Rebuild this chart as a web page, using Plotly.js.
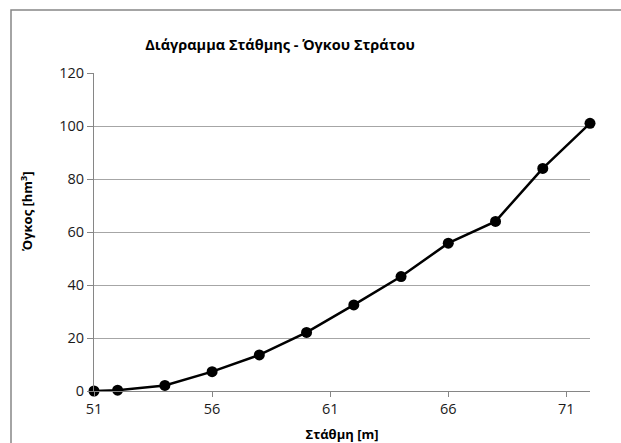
<!DOCTYPE html>
<html>
<head>
<meta charset="utf-8">
<script src="https://cdn.plot.ly/plotly-3.0.1.min.js"></script>
<style>html,body{margin:0;padding:0;background:#fff;}#chart{width:621px;height:443px;}</style>
</head>
<body>
<div id="chart"></div>
<script>
const stage = [51, 52, 54, 56, 58, 60, 62, 64, 66, 68, 70, 72];
const volume = [0, 0.3, 2.1, 7.3, 13.6, 22.1, 32.5, 43.2, 55.8, 64, 84, 101];
const xTicks = [51, 56, 61, 66, 71];
const yTicks = [0, 20, 40, 60, 80, 100, 120];

const FONT = "'Open Sans', 'DejaVu Sans', sans-serif";

const trace = {
  x: stage, y: volume, type: 'scatter', mode: 'lines+markers',
  line: {color: '#000', width: 2.5},
  marker: {color: '#000', size: 11},
  cliponaxis: false,
  showlegend: false, hoverinfo: 'x+y'
};

const layout = {
  width: 621, height: 443,
  margin: {l: 94, r: 31, t: 73, b: 52},
  paper_bgcolor: '#fff', plot_bgcolor: '#fff',
  font: {family: FONT, size: 14, color: '#1a1a1a'},
  title: {text: '<b>Διάγραμμα Στάθμης - Όγκου Στράτου</b>', font: {family: FONT, size: 14.5, color: '#000'},
          x: 280/621, xanchor: 'center', xref: 'container', y: 1 - 45/443, yanchor: 'middle', yref: 'container'},
  xaxis: {
    range: [51, 72], tickvals: xTicks, ticktext: xTicks.map(String),
    showgrid: false, zeroline: false, showline: true, linecolor: '#868686', linewidth: 1,
    ticks: 'outside', ticklen: 5, tickcolor: '#868686', tickfont: {size: 14.5},
    title: {text: '<b>Στάθμη [m]</b>', font: {size: 13, color: '#000'}, standoff: 14}
  },
  yaxis: {
    range: [0, 120], tickvals: yTicks, ticktext: yTicks.map(String),
    showgrid: true, gridcolor: '#a6a6a6', gridwidth: 1, zeroline: false,
    showline: true, linecolor: '#868686', linewidth: 1,
    ticks: 'outside', ticklen: 6, tickcolor: '#868686', tickfont: {size: 14.5}
  },
  annotations: [{
    text: '<b>Όγκος [hm<sup>3</sup>]</b>', textangle: -90, font: {family: FONT, size: 13, color: '#000'},
    xref: 'paper', yref: 'paper', x: (26-94)/496, y: (391-211)/318, xanchor: 'center', yanchor: 'middle', showarrow: false
  }],
  shapes: [{
    type: 'path', xref: 'paper', yref: 'paper',
    path: 'M ' + ((11-94)/496) + ',' + ((391-460)/318) + ' L ' + ((11-94)/496) + ',' + ((391-10)/318) + ' L ' + ((640-94)/496) + ',' + ((391-10)/318),
    line: {color: '#868686', width: 1.5}
  }]
};

Plotly.newPlot('chart', [trace], layout, {displayModeBar: false, staticPlot: true});
</script>
</body>
</html>
